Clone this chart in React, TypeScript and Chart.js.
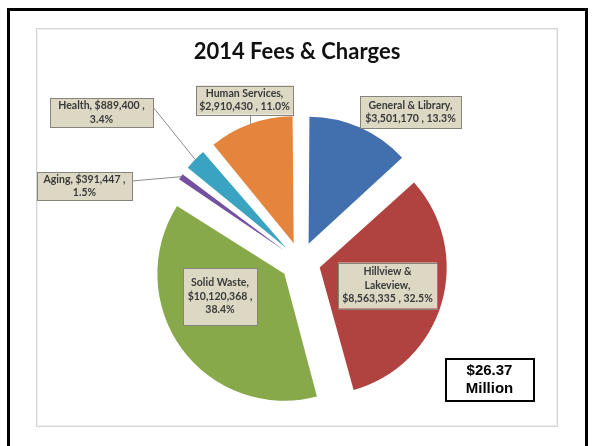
import React, { useEffect, useRef } from "react";
import { Chart, registerables } from "chart.js";

Chart.register(...registerables);

// ---- data ----
const TITLE = "2014 Fees & Charges";
const CATEGORIES = [
  "General & Library",
  "Hillview & Lakeview",
  "Solid Waste",
  "Aging",
  "Health",
  "Human Services",
];
const VALUES = [3501170, 8563335, 10120368, 391447, 889400, 2910430];
const TOTAL_LINES = ["$26.37", "Million"];

// ---- styles / layout ----
const COLORS = ["#4270AE", "#B0433F", "#88A94A", "#7451A0", "#3AA3C2", "#E5843C"];
const W = 592;
const H = 446;
const RADIUS = 127;
const EXPLODE = 20; // px translation of every slice
// label box centers and sizes [cx, cy, w, h]
const LABEL_BOXES = [
  [410.5, 112, 101, 32],
  [387.5, 285.5, 99, 46],
  [220, 296.5, 74, 57],
  [84.5, 186, 95, 28],
  [101.5, 112.5, 103, 29],
  [244.5, 100, 97, 29],
];
// number of words on each line of a label
const LABEL_BREAKS = [[3, 3], [2, 1, 3], [2, 2, 1], [3, 1], [3, 1], [2, 3]];
// where the leader line leaves the box
const LEADERS = [null, null, null, "right", "right", "bottom"];

const total = VALUES.reduce((a, b) => a + b, 0);

function labelLines(i: number): string[] {
  const money = "$" + VALUES[i].toLocaleString("en-US");
  const pct = ((VALUES[i] / total) * 100).toFixed(1) + "%";
  const words = `${CATEGORIES[i]}, ${money} , ${pct}`.split(" ");
  const out: string[] = [];
  let k = 0;
  for (const n of LABEL_BREAKS[i]) {
    out.push(words.slice(k, k + n).join(" "));
    k += n;
  }
  return out;
}

const decor = {
  id: "decor",
  afterDatasetUpdate(chart: any, args: any) {
    // keep radius equal for all exploded slices
    args.meta.data.forEach((arc: any) => {
      const off = (arc.options?.offset || 0) / 4;
      const fix = 1 - Math.sin(Math.min(Math.PI, arc.circumference || 0));
      arc.outerRadius = RADIUS - off * fix;
    });
  },
  beforeDraw(chart: any) {
    const ctx = chart.ctx as CanvasRenderingContext2D;
    ctx.save();
    ctx.fillStyle = "#ffffff";
    ctx.fillRect(0, 0, W, H);
    // outer black frame (open at the bottom)
    ctx.strokeStyle = "#000000";
    ctx.lineWidth = 3;
    ctx.beginPath();
    ctx.moveTo(8.5, H + 5);
    ctx.lineTo(8.5, 9.5);
    ctx.lineTo(586.5, 9.5);
    ctx.lineTo(586.5, H + 5);
    ctx.stroke();
    // chart area box
    ctx.strokeStyle = "#D6D6D6";
    ctx.lineWidth = 1;
    ctx.strokeRect(36.5, 28.5, 521, 398);
    ctx.strokeStyle = "#EFEFEF";
    ctx.strokeRect(37.5, 29.5, 519, 396);
    // title
    ctx.fillStyle = "#111111";
    ctx.font = "bold 22px Lato";
    ctx.textAlign = "center";
    ctx.textBaseline = "middle";
    ctx.fillText(TITLE, 297, 52);
    ctx.restore();
  },
  afterDatasetsDraw(chart: any) {
    const ctx = chart.ctx as CanvasRenderingContext2D;
    const arcs = chart.getDatasetMeta(0).data;
    ctx.save();
    // leader lines
    ctx.strokeStyle = "#8C8C8C";
    ctx.lineWidth = 1;
    arcs.forEach((arc: any, i: number) => {
      const mode = LEADERS[i];
      if (!mode) return;
      const mid = (arc.startAngle + arc.endAngle) / 2;
      const r = EXPLODE + RADIUS;
      const ex = arc.x + Math.cos(mid) * r;
      const ey = arc.y + Math.sin(mid) * r;
      const [cx, cy, w, h] = LABEL_BOXES[i];
      let sx: number, sy: number;
      if (mode === "right") {
        sx = cx + w / 2;
        sy = cy - h / 2 + 9;
      } else {
        sx = ex;
        sy = cy + h / 2;
      }
      ctx.beginPath();
      ctx.moveTo(sx, sy);
      ctx.lineTo(ex, ey);
      ctx.stroke();
    });
    // label boxes
    ctx.font = "bold 10.5px Lato";
    ctx.textAlign = "center";
    ctx.textBaseline = "middle";
    const lh = 13.5;
    LABEL_BOXES.forEach((b, i) => {
      const [cx, cy, w, h] = b;
      ctx.fillStyle = "#DCD8C3";
      ctx.fillRect(cx - w / 2, cy - h / 2, w, h);
      ctx.strokeStyle = "#85857C";
      ctx.strokeRect(Math.round(cx - w / 2) + 0.5, Math.round(cy - h / 2) + 0.5, Math.round(w), Math.round(h));
      const lines = labelLines(i);
      ctx.fillStyle = "#3A3A3A";
      const y0 = cy - ((lines.length - 1) * lh) / 2;
      lines.forEach((t, j) => ctx.fillText(t, cx, y0 + j * lh));
    });
    // total box
    ctx.fillStyle = "#ffffff";
    ctx.fillRect(445, 358, 89, 43);
    ctx.strokeStyle = "#000000";
    ctx.lineWidth = 2;
    ctx.strokeRect(446, 359, 88, 42);
    ctx.fillStyle = "#000000";
    ctx.font = "bold 15px 'Liberation Sans', Arial, sans-serif";
    ctx.fillText(TOTAL_LINES[0], 489.5, 371);
    ctx.fillText(TOTAL_LINES[1], 489.5, 389);
    ctx.restore();
  },
};

export default function App() {
  const ref = useRef<HTMLCanvasElement | null>(null);
  useEffect(() => {
    if (!ref.current) return;
    const chart = new Chart(ref.current, {
      type: "pie",
      data: {
        labels: CATEGORIES,
        datasets: [
          {
            data: VALUES,
            backgroundColor: COLORS,
            borderWidth: 0,
            offset: EXPLODE * 4,
            hoverOffset: 0,
          } as any,
        ],
      },
      options: {
        responsive: false,
        animation: false,
        events: [],
        radius: RADIUS,
        layout: { padding: { left: 100, right: 91, top: 100, bottom: 22 } },
        plugins: {
          legend: { display: false },
          tooltip: { enabled: false },
          title: { display: false },
        },
      } as any,
      plugins: [decor],
    });
    return () => chart.destroy();
  }, []);
  return (
    <div style={{ position: "fixed", left: 0, top: 0, width: W, height: H, background: "#fff" }}>
      <canvas ref={ref} width={W} height={H} style={{ display: "block" }} />
    </div>
  );
}
